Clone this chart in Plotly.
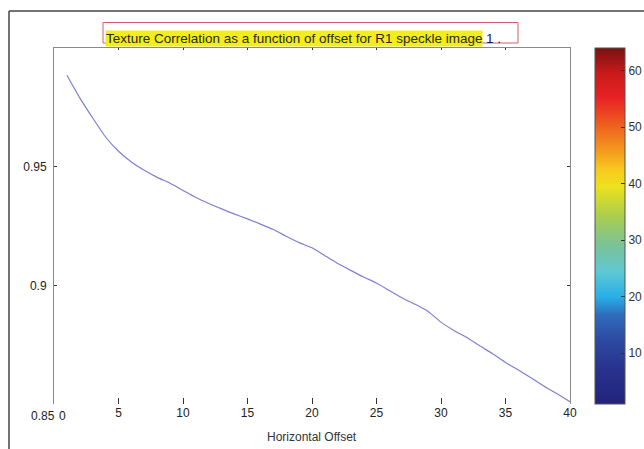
import plotly.graph_objects as go

# ---- data ----
offsets = list(range(1, 41))
correlation = [0.9885, 0.9790, 0.9705, 0.9625, 0.9565, 0.9520, 0.9485, 0.9455, 0.9430, 0.9400,
               0.9370, 0.9345, 0.9322, 0.9300, 0.9280, 0.9258, 0.9235, 0.9207, 0.9180, 0.9158,
               0.9125, 0.9092, 0.9063, 0.9035, 0.9010, 0.8978, 0.8947, 0.8920, 0.8890, 0.8845,
               0.8810, 0.8780, 0.8745, 0.8712, 0.8675, 0.8643, 0.8610, 0.8575, 0.8543, 0.8510]
x_ticks = [5, 10, 15, 20, 25, 30, 35, 40]
y_ticks = [0.9, 0.95]
y_ticktext = ["0.9", "0.95"]
cbar_ticks = [10, 20, 30, 40, 50, 60]
cbar_min, cbar_max = 1, 64
title_text = "Texture Correlation as a function of offset for R1 speckle image"
xlabel = "Horizontal Offset"

W, H = 644, 449
L, R, T, B = 54, 570, 48, 404  # plot area in pixels
def px(x):
    return (x - L) / (R - L)
def py(y):
    return (B - y) / (B - T)

FONT = "Liberation Sans, Arial, sans-serif"

jet = [
    [0.00, "#22237a"], [0.10, "#28338e"], [0.18, "#2d4aa2"], [0.25, "#2f6cbc"],
    [0.30, "#28aee6"], [0.37, "#5ec8d6"], [0.45, "#7cc294"], [0.53, "#acce4c"],
    [0.61, "#ece21e"], [0.66, "#f8c81e"], [0.72, "#f3921e"], [0.80, "#ec5220"],
    [0.86, "#e82224"], [0.93, "#c81a1a"], [1.00, "#781212"],
]

fig = go.Figure()
fig.add_trace(go.Scatter(x=offsets, y=correlation, mode="lines",
                         line=dict(color="#7f7fd2", width=1.2, shape="spline", smoothing=0.5),
                         showlegend=False, hoverinfo="skip"))
# colorbar carrier
fig.add_trace(go.Scatter(x=[None], y=[None], mode="markers", showlegend=False,
                         marker=dict(color=[cbar_min], colorscale=jet, cmin=cbar_min, cmax=cbar_max,
                                     showscale=True,
                                     colorbar=dict(x=px(595), xanchor="left", xpad=0, ypad=0,
                                                   y=0.5, yanchor="middle",
                                                   len=1, lenmode="fraction",
                                                   thickness=30, thicknessmode="pixels",
                                                   outlinewidth=1, outlinecolor="#555",
                                                   tickvals=cbar_ticks, ticks="inside", ticklen=4,
                                                   tickcolor="#333",
                                                   tickfont=dict(family=FONT, size=12, color="#333")))))
# carrier for top axis
fig.add_trace(go.Scatter(x=[None], y=[None], xaxis="x2", showlegend=False))

fig.update_layout(
    width=W, height=H,
    margin=dict(l=L, r=W - R, t=T, b=H - B, pad=0, autoexpand=False),
    paper_bgcolor="white", plot_bgcolor="white",
    xaxis=dict(range=[0, 40], tickvals=x_ticks, ticks="inside", ticklen=6, tickcolor="#333",
               showline=False, showgrid=False, zeroline=False,
               tickfont=dict(family=FONT, size=12, color="#222")),
    xaxis2=dict(range=[0, 40], overlaying="x", side="top", tickvals=x_ticks[:-1], ticks="inside",
                ticklen=2, tickcolor="#333", showticklabels=False, showline=True,
                linecolor="#8a8a8a", linewidth=1, showgrid=False, zeroline=False),
    yaxis=dict(range=[0.85, 1.0], tickvals=y_ticks, ticktext=y_ticktext, ticks="inside",
               ticklen=3, tickcolor="#333", showline=True, linecolor="#8a8a8a", linewidth=1,
               mirror="ticks", showgrid=False, zeroline=False, ticklabelstandoff=4,
               tickfont=dict(family=FONT, size=12, color="#222")),
    font=dict(family=FONT),
)

annotations = [
    dict(text="0.85", x=px(57), y=0.85, xref="paper", yref="y", xanchor="right", yanchor="middle",
         yshift=-12, showarrow=False, font=dict(family=FONT, size=12, color="#222")),
    dict(text="0", x=px(57), y=0.85, xref="paper", yref="y", xanchor="left", yanchor="middle",
         yshift=-12, showarrow=False, font=dict(family=FONT, size=12, color="#222")),
    dict(text=xlabel, x=0.5, y=py(437), xref="paper", yref="paper", xanchor="center",
         yanchor="middle", showarrow=False, font=dict(family=FONT, size=12, color="#333")),
    dict(text=title_text, x=px(105), y=py(38.5), xref="paper", yref="paper", xanchor="left",
         yanchor="middle", showarrow=False, bgcolor="#f2ee1c", borderpad=0,
         font=dict(family=FONT, size=13.5, color="#2a2a10")),
    dict(text="1 .", x=px(484), y=py(38.5), xref="paper", yref="paper", xanchor="left",
         yanchor="middle", showarrow=False, font=dict(family=FONT, size=13.5, color="#1a1a50")),
]
fig.update_layout(annotations=annotations)

shapes = [
    # outer frame
    dict(type="line", xref="paper", yref="paper", x0=px(9), x1=px(9), y0=py(11), y1=py(449),
         line=dict(color="#444", width=1.5)),
    dict(type="line", xref="paper", yref="paper", x0=px(9), x1=px(644), y0=py(11), y1=py(11),
         line=dict(color="#444", width=1.5)),
    # title box
    dict(type="rect", xref="paper", yref="paper", x0=px(103), x1=px(518), y0=py(43), y1=py(22.5),
         line=dict(color="#d0606c", width=1), fillcolor="rgba(0,0,0,0)"),
]
fig.update_layout(shapes=shapes)

fig.write_html("out.html")
